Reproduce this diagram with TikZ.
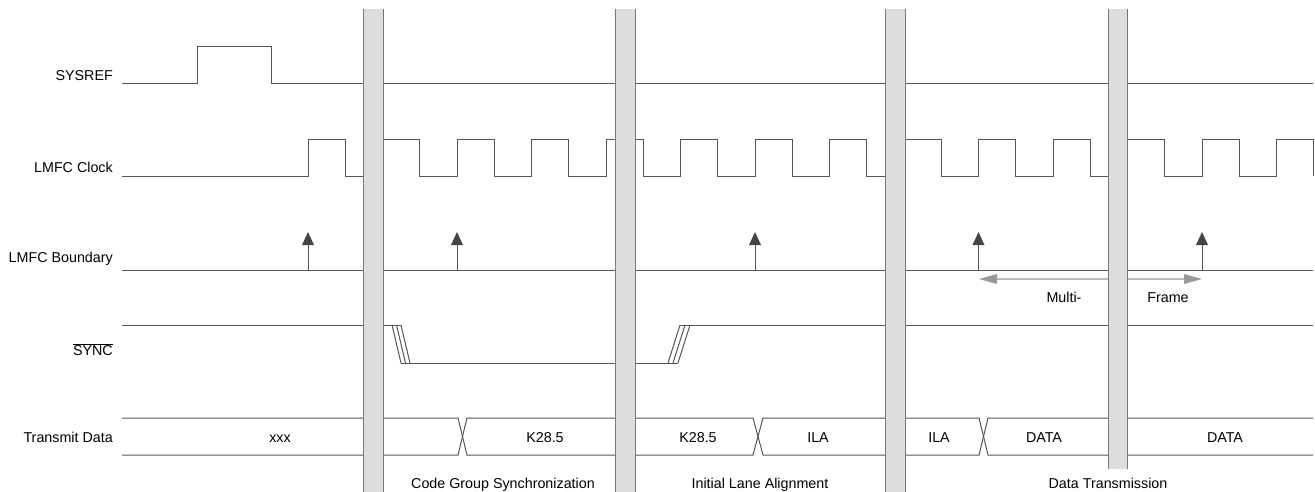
\documentclass[tikz,border=0pt]{standalone}
\usepackage{fontspec}
\setmainfont{Liberation Sans}
\definecolor{sigc}{HTML}{555555}
\definecolor{barfill}{HTML}{DDDDDD}
\definecolor{barline}{HTML}{777777}
\definecolor{headc}{HTML}{444444}
\definecolor{mfline}{HTML}{BBBBBB}
\definecolor{mfhead}{HTML}{999999}
\begin{document}
\begin{tikzpicture}[x=1pt,y=-1pt,
  sig/.style={draw=sigc, line width=1pt, line join=miter},
  lbl/.style={font=\fontsize{14.3}{16}\selectfont, inner sep=0pt, anchor=base east},
  txt/.style={font=\fontsize{14.3}{16}\selectfont, inner sep=0pt, anchor=base},
  barfillst/.style={fill=barfill, draw=none},
  baredge/.style={draw=barline, line width=1pt},
  bhead/.style={fill=headc, draw=none}]
\useasboundingbox (0,0) rectangle (1315,491);

% ---- row labels
\node[lbl] (lsys) at (113,80) {SYSREF};
\node[lbl] (lclk) at (113,172.7) {LMFC Clock};
\node[lbl] (lbnd) at (113,262.7) {LMFC Boundary};
\node[lbl] (lsync) at (113,355.5) {$\overline{\mbox{SYNC}}$};
\node[lbl] (ltx) at (113,442.7) {Transmit Data};

% ---- SYSREF
\draw[sig] (122,83) -- (197,83) -- (197,46) -- (271,46) -- (271,83) -- (1313,83);

% ---- LMFC clock
\draw[sig] (122,176)
  \foreach \r in {308,382.5,457,531.5,606,680.5,755,829.5,904,978.5,1053,1127.5,1202}{
    -- (\r,176) -- (\r,139) -- ({\r+37},139) -- ({\r+37},176) }
  -- (1276.5,176) -- (1276.5,139) -- (1313.5,139) -- (1313.5,176);

% ---- LMFC boundary
\draw[sig] (122,270) -- (1313,270);
\foreach \a in {308,457,755,978.5,1202}{
  \draw[sig] (\a,270) -- (\a,244);
  \fill[headc] ({\a-6},245) -- ({\a+6},245) -- (\a,232) -- cycle;
}
% multi-frame arrow
\draw[mfline, line width=2pt] (995,279) -- (1186,279);
\fill[mfhead] (979,279) -- (997,274) -- (997,284) -- cycle;
\fill[mfhead] (1202,279) -- (1184,274) -- (1184,284) -- cycle;
\node[txt] (multi) at (1064,302.3) {Multi-};
\node[txt] (frame) at (1168,302.3) {Frame};

% ---- SYNC
\draw[sig] (122,325) -- (401,325);
\draw[sig] (392,325) -- (401,363);
\draw[sig] (396.5,325) -- (405.5,363);
\draw[sig] (401,325) -- (410,363);
\draw[sig] (401,363) -- (678,363);
\draw[sig] (668,363) -- (680,325);
\draw[sig] (673,363) -- (685,325);
\draw[sig] (678,363) -- (690,325);
\draw[sig] (680,325) -- (1313,325);

% ---- Transmit data
\draw[sig] (122,418) -- (458,418) -- (467,455) -- (753,455) -- (763,418) -- (979,418) -- (988,455) -- (1313,455);
\draw[sig] (122,455) -- (458,455) -- (467,418) -- (753,418) -- (763,455) -- (979,455) -- (988,418) -- (1313,418);
\node[txt] (dxxx) at (280,442.7) {xxx};
\node[txt] (dk1) at (545,442.7) {K28.5};
\node[txt] (dk2) at (698,442.7) {K28.5};
\node[txt] (dila1) at (818,442.7) {ILA};
\node[txt] (dila2) at (939,442.7) {ILA};
\node[txt] (ddata1) at (1044,442.7) {DATA};
\node[txt] (ddata2) at (1225,442.7) {DATA};

% ---- phase bars (filled, with side edges only)
\foreach \xl/\xr/\yb in {363/383/492, 615/635/492, 885/905/492, 1108/1127/469}{
  \fill[barfillst] (\xl,9) rectangle (\xr,\yb);
  \draw[baredge] (\xl,9) -- (\xl,\yb);
  \draw[baredge] (\xr,9) -- (\xr,\yb);
}

% ---- phase labels
\node[txt] (pcgs) at (503,488.3) {Code Group Synchronization};
\node[txt] (pila) at (760,488.3) {Initial Lane Alignment};
\node[txt] (pdat) at (1108,488.3) {Data Transmission};
\end{tikzpicture}
\end{document}
